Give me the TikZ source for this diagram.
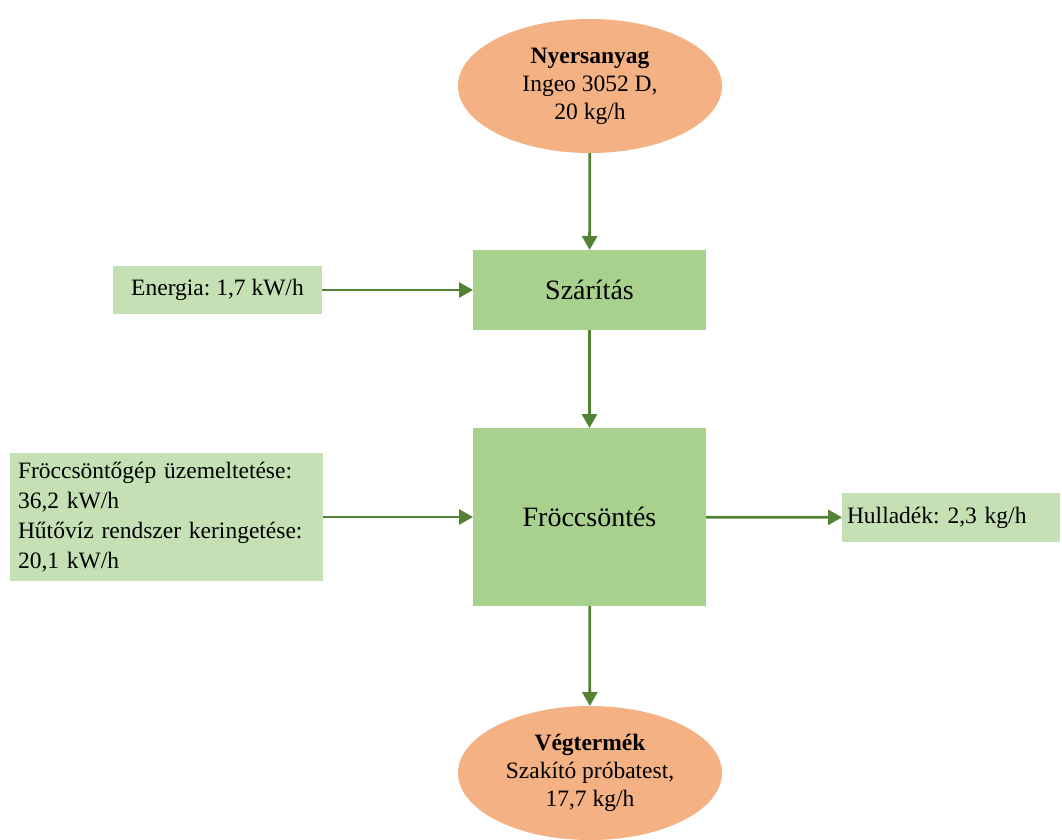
\documentclass[tikz,border=0pt]{standalone}
\usepackage{fontspec}
\setmainfont{Liberation Serif}
\frenchspacing
\usetikzlibrary{arrows.meta, shapes.geometric, positioning}
\definecolor{green1}{HTML}{A9D18E}
\definecolor{green2}{HTML}{C5E0B4}
\definecolor{orange1}{HTML}{F4B183}
\definecolor{arrowgreen}{HTML}{548235}

\begin{document}
\begin{tikzpicture}[x=1pt,y=-1pt,->,>={Triangle[length=14pt,width=15pt]},
                    line width=2.8pt,draw=arrowgreen]
  \tikzstyle{every node}=[outer sep=0pt]
  \tikzstyle{stage}=[rectangle,fill=green1,draw=none,text=black,
                     minimum width=233pt,font=\fontsize{28}{32}\selectfont]
  \tikzstyle{input}=[rectangle,fill=green2,draw=none,text=black,inner sep=0pt,
                     font=\fontsize{23.5}{30}\selectfont]
  \tikzstyle{endpoint}=[ellipse,fill=orange1,draw=none,text=black,inner sep=0pt,
                        minimum width=264pt,minimum height=134pt,align=center,
                        font=\fontsize{23.5}{28}\selectfont]
  \useasboundingbox (0,0) rectangle (1062,839);

  \node[endpoint] (raw)      at (590,86)    {\textbf{Nyersanyag}\\Ingeo 3052 D,\\20 kg/h};
  \node[stage, minimum height=80pt]  (dry)   at (589.5,290) {Szárítás};
  \node[stage, minimum height=178pt] (mould) at (589.5,517) {Fröccsöntés};
  \node[endpoint] (product)  at (590,773)   {\textbf{Végtermék}\\Szakító próbatest,\\17,7 kg/h};
  \node[input, minimum width=209pt, minimum height=48pt] (energy) at (217.5,290)
       {Energia: 1,7 kW/h};
  \node[input, minimum width=313pt, minimum height=128pt, align=left,
        text width=297pt] (power) at (166.5,517)
       {Fröccsöntőgép üzemeltetése:\\36,2 kW/h\\Hűtővíz rendszer keringetése:\\20,1 kW/h};
  \node[input, minimum width=218pt, minimum height=49pt, text width=208pt, align=left]
       (waste) at (951,517.5) {Hulladék: 2,3 kg/h};

  \path (raw)    edge (dry)
        (energy) edge (dry)
        (dry)    edge (mould)
        (power)  edge (mould)
        (mould)  edge (waste)
                 edge (product);
\end{tikzpicture}
\end{document}
